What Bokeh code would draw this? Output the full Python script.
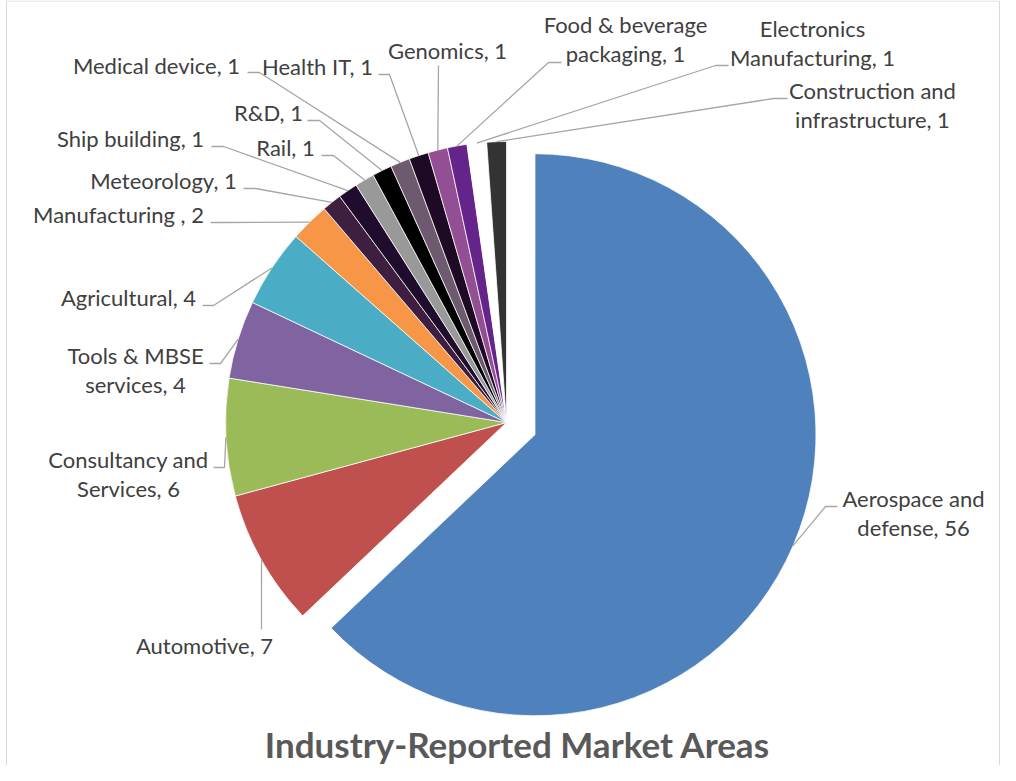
import math
from bokeh.plotting import figure
from bokeh.models import ColumnDataSource, Range1d
from bokeh.embed import file_html
from bokeh.resources import INLINE
from bokeh.core.properties import value

# ---------------- data ----------------
categories = [
    "Aerospace and defense", "Automotive", "Consultancy and Services",
    "Tools & MBSE services", "Agricultural", "Manufacturing ",
    "Meteorology", "Ship building", "Rail", "R&D", "Medical device",
    "Health IT", "Genomics", "Food & beverage packaging",
    "Electronics Manufacturing", "Construction and infrastructure",
]
counts = [56, 7, 6, 4, 4, 2, 1, 1, 1, 1, 1, 1, 1, 1, 1, 1]
colors = [
    "#4F81BD", "#C0504D", "#9BBB59", "#8064A2", "#4BACC6", "#F79646",
    "#3F1F3F", "#200C2C", "#999999", "#000000", "#6E5A6E", "#1F0A25",
    "#934F93", "#652489", "#FFFFFF", "#333333",
]
title_text = "Industry-Reported Market Areas"

# ---------------- layout (screen pixels of the 1016x781 page) ----------------
W, H = 1000, 765
PAGE_H = 781
CX, CY, R = 514, 430, 281
explode = [31] + [0] * 15
LINE_GAP = 29
LABEL_SIZE = 22
TITLE_SIZE = 35
BASE_FIX = 0.39  # em offset between requested and drawn baseline
# (text centre x, baseline y of first line, words on first line, elbow pt, stub pt)
label_layout = [
    (921, 515, 2, (833, 514), (845, 514)),
    (212, 662, 0, (269, 637), (269, 637)),
    (136, 476, 2, (232, 475), (221, 475)),
    (143, 372, 3, (228, 371), (217, 371)),
    (136, 314, 0, (221, 313), (210, 313)),
    (126, 231, 0, (230, 230), (218, 230)),
    (171, 197, 0, (263, 196), (251, 196)),
    (138, 155, 0, (231, 154), (219, 154)),
    (293, 164, 0, (341, 163), (329, 163)),
    (276, 129, 0, (327, 128), (315, 128)),
    (164, 82, 0, (267, 80), (255, 80)),
    (325, 83, 0, (397, 82), (386, 82)),
    (455, 67, 0, (446, 73), (446, 73)),
    (633, 41, 3, (556, 70), (569, 70)),
    (820, 45, 1, (723, 73), (736, 73)),
    (880, 107, 2, (781, 106), (795, 106)),
]


def sy(y):
    return PAGE_H - y


total = float(sum(counts))
xs, ys, starts, ends = [], [], [], []
lead_x, lead_y = [], []
txt_x, txt_y, txt = [], [], []
cum = 0.0
for i, (cat, v) in enumerate(zip(categories, counts)):
    c0 = cum / total * 2 * math.pi
    c1 = (cum + v) / total * 2 * math.pi
    cm = (c0 + c1) / 2
    cum += v
    ox = CX + explode[i] * math.sin(cm)
    oy = sy(CY) + explode[i] * math.cos(cm)
    xs.append(ox)
    ys.append(oy)
    starts.append(math.pi / 2 - c1)
    ends.append(math.pi / 2 - c0)
    px = ox + R * math.sin(cm)
    py = oy + R * math.cos(cm)
    tx, base, k, elbow, stub = label_layout[i]
    lead_x.append([px, elbow[0], stub[0]])
    lead_y.append([py, sy(elbow[1]), sy(stub[1])])
    label = f"{cat}, {v}"
    words = label.split(" ")
    lines = [label] if k == 0 else [" ".join(words[:k]), " ".join(words[k:])]
    for j, ln in enumerate(lines):
        txt_x.append(tx)
        txt_y.append(sy(base + j * LINE_GAP - BASE_FIX * LABEL_SIZE))
        txt.append(ln)

src = ColumnDataSource(dict(x=xs, y=ys, start=starts, end=ends, color=colors,
                            name=categories, count=counts))

p = figure(width=W, height=H, x_range=Range1d(8, 8 + W), y_range=Range1d(8, 8 + H),
           x_axis_type=None, y_axis_type=None, toolbar_location=None,
           output_backend="svg", min_border=0, outline_line_color=None,
           background_fill_color="white", border_fill_color="white")

# chart frame
p.line(x=[14, 14], y=[sy(773), sy(8.5)], line_color="#D9D9D9", line_width=1)
p.line(x=[14, 1007], y=[sy(8.5), sy(8.5)], line_color="#D9D9D9", line_width=1)
p.line(x=[1007, 1007], y=[sy(8.5), sy(773)], line_color="#D9D9D9", line_width=1)

p.wedge(x="x", y="y", radius=R, start_angle="start", end_angle="end",
        fill_color="color", line_color="white", line_width=0.75, source=src)

p.multi_line(xs=lead_x, ys=lead_y, line_color="#A6A6A6", line_width=1.3)

p.text(x=txt_x, y=txt_y, text=txt, text_font=value("Lato"),
       text_font_size=f"{LABEL_SIZE}px", text_color="#404040",
       text_align="center", text_baseline="alphabetic")

p.text(x=[525], y=[sy(765 - BASE_FIX * TITLE_SIZE)], text=[title_text],
       text_font=value("Lato"), text_font_size=f"{TITLE_SIZE}px",
       text_font_style="bold", text_color="#595959",
       text_align="center", text_baseline="alphabetic")

open("out.html", "w").write(file_html(p, INLINE))
